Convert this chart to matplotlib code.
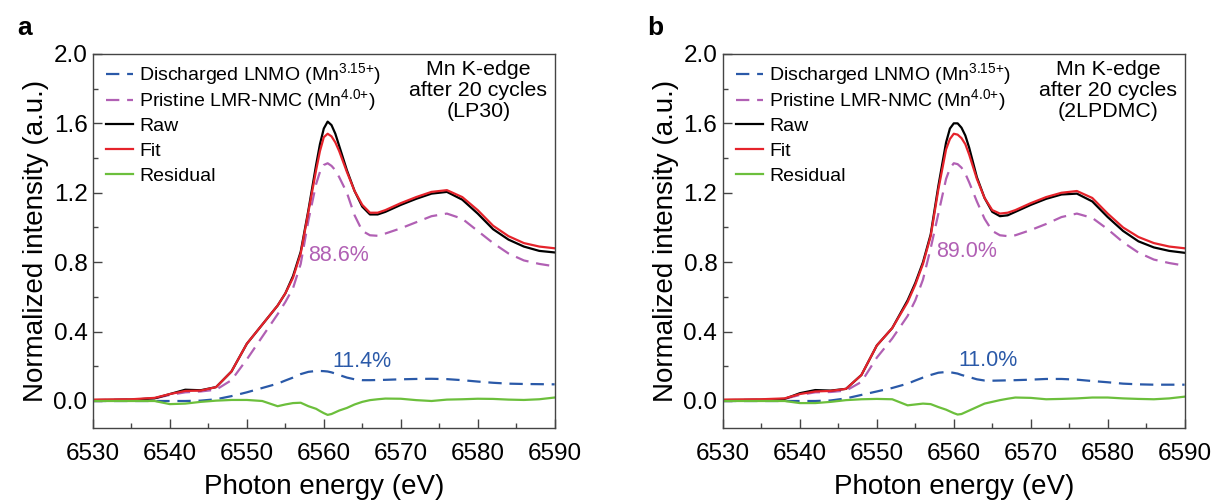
import matplotlib
matplotlib.use("Agg")
import matplotlib.pyplot as plt
from matplotlib.ticker import MultipleLocator, FormatStrFormatter

plt.rcParams['font.family'] = ['Liberation Sans', 'DejaVu Sans']
plt.rcParams['mathtext.default'] = 'regular'

# photon energy grid (eV), shared by both panels
energy = [6530, 6535, 6538, 6540, 6542, 6544, 6546, 6548, 6550, 6552, 6554, 6555, 6556,
          6557, 6558, 6559, 6559.5, 6560, 6560.5, 6561, 6561.5, 6562, 6563, 6564, 6565, 6566, 6567, 6568,
          6570, 6572, 6574, 6576, 6578, 6580, 6582, 6584, 6586, 6588, 6590]

# panel a (LP30)
raw_a = [0.005, 0.008, 0.015, 0.04, 0.065, 0.062, 0.08, 0.17, 0.33, 0.44, 0.55, 0.62, 0.72,
         0.86, 1.10, 1.36, 1.48, 1.57, 1.61, 1.59, 1.54, 1.47, 1.33, 1.21, 1.12, 1.075, 1.075, 1.09,
         1.13, 1.165, 1.195, 1.205, 1.16, 1.08, 0.99, 0.93, 0.89, 0.865, 0.856]
fit_a = [0.008, 0.01, 0.018, 0.04, 0.058, 0.06, 0.08, 0.17, 0.33, 0.44, 0.55, 0.62, 0.71,
         0.85, 1.09, 1.33, 1.44, 1.52, 1.54, 1.525, 1.49, 1.44, 1.32, 1.21, 1.13, 1.085, 1.085, 1.10,
         1.14, 1.175, 1.205, 1.215, 1.175, 1.10, 1.01, 0.95, 0.91, 0.89, 0.88]
pristine_a = [0.005, 0.008, 0.015, 0.035, 0.05, 0.055, 0.065, 0.12, 0.24, 0.37, 0.50, 0.57, 0.65,
              0.79, 1.04, 1.25, 1.32, 1.36, 1.37, 1.355, 1.33, 1.29, 1.20, 1.07, 0.98, 0.955, 0.952, 0.965,
              0.995, 1.03, 1.065, 1.08, 1.05, 0.98, 0.91, 0.85, 0.81, 0.79, 0.776]
discharged_a = [0.0, 0.0, 0.0, 0.0, 0.0, 0.002, 0.01, 0.028, 0.05, 0.075, 0.10, 0.118, 0.135,
                0.155, 0.168, 0.173, 0.173, 0.172, 0.17, 0.165, 0.158, 0.15, 0.135, 0.125, 0.12, 0.12, 0.121, 0.122,
                0.125, 0.127, 0.128, 0.126, 0.12, 0.112, 0.105, 0.10, 0.098, 0.097, 0.096]
residual_a = [0.0, 0.0, 0.0, -0.018, -0.015, -0.005, 0.002, 0.006, 0.006, 0.0, -0.03, -0.02, -0.012,
              -0.01, -0.03, -0.045, -0.058, -0.07, -0.08, -0.075, -0.065, -0.055, -0.04, -0.02, -0.005, 0.005, 0.01, 0.014,
              0.013, 0.005, 0.0, 0.008, 0.01, 0.013, 0.012, 0.008, 0.006, 0.01, 0.02]

# panel b (2LPDMC)
raw_b = [0.005, 0.007, 0.012, 0.045, 0.063, 0.06, 0.07, 0.15, 0.32, 0.42, 0.58, 0.68, 0.80,
         0.96, 1.24, 1.49, 1.57, 1.60, 1.60, 1.575, 1.53, 1.46, 1.29, 1.17, 1.09, 1.065, 1.07, 1.09,
         1.13, 1.165, 1.19, 1.195, 1.15, 1.06, 0.98, 0.92, 0.885, 0.865, 0.854]
fit_b = [0.008, 0.01, 0.015, 0.04, 0.055, 0.058, 0.07, 0.15, 0.32, 0.42, 0.57, 0.67, 0.79,
         0.95, 1.22, 1.45, 1.51, 1.54, 1.535, 1.515, 1.48, 1.42, 1.28, 1.17, 1.10, 1.08, 1.085, 1.10,
         1.14, 1.175, 1.20, 1.21, 1.17, 1.08, 1.00, 0.945, 0.91, 0.89, 0.88]
pristine_b = [0.005, 0.007, 0.012, 0.035, 0.05, 0.052, 0.06, 0.11, 0.25, 0.36, 0.49, 0.58, 0.70,
              0.88, 1.08, 1.28, 1.34, 1.37, 1.365, 1.345, 1.31, 1.26, 1.15, 1.05, 0.98, 0.955, 0.95, 0.955,
              0.985, 1.02, 1.06, 1.08, 1.055, 0.99, 0.915, 0.855, 0.815, 0.795, 0.78]
discharged_b = [0.0, 0.0, 0.0, 0.0, 0.0, 0.003, 0.015, 0.035, 0.055, 0.075, 0.10, 0.118, 0.135,
                0.15, 0.163, 0.167, 0.166, 0.162, 0.158, 0.15, 0.144, 0.138, 0.125, 0.118, 0.117, 0.118, 0.119, 0.12,
                0.123, 0.127, 0.127, 0.123, 0.115, 0.108, 0.10, 0.096, 0.094, 0.094, 0.094]
residual_b = [0.0, 0.0, 0.0, -0.012, -0.012, -0.005, 0.005, 0.01, 0.012, 0.01, -0.025, -0.02, -0.015,
              -0.018, -0.035, -0.05, -0.06, -0.07, -0.078, -0.075, -0.065, -0.055, -0.035, -0.015, -0.005, 0.005, 0.013, 0.02,
              0.018, 0.01, 0.012, 0.015, 0.02, 0.02, 0.015, 0.012, 0.01, 0.015, 0.025]

panels = [
    ("a", "LP30", raw_a, fit_a, pristine_a, discharged_a, residual_a,
     ("88.6%", 6561.9, 0.84), ("11.4%", 6564.9, 0.226)),
    ("b", "2LPDMC", raw_b, fit_b, pristine_b, discharged_b, residual_b,
     ("89.0%", 6561.7, 0.864), ("11.0%", 6564.5, 0.236)),
]

c_blue = '#2a59a8'
c_mag = '#b160b4'
c_red = '#e5232b'
c_green = '#6cbf3c'

fig = plt.figure(figsize=(12.15, 5.04), dpi=100)
lefts = [0.0765, 0.595]

for left, (letter, electrolyte, raw, fit, pris, dis, res, lab_p, lab_d) in zip(lefts, panels):
    ax = fig.add_axes([left, 0.151, 0.380, 0.742])
    l_dis, = ax.plot(energy, dis, color=c_blue, lw=1.6, dashes=(6, 3.5),
                     label='Discharged LNMO (Mn$^{3.15{+}}$)')
    l_pris, = ax.plot(energy, pris, color=c_mag, lw=1.6, dashes=(6, 3.5),
                      label='Pristine LMR-NMC (Mn$^{4.0{+}}$)')
    l_raw, = ax.plot(energy, raw, color='black', lw=1.6, label='Raw')
    l_fit, = ax.plot(energy, fit, color=c_red, lw=1.6, label='Fit')
    l_res, = ax.plot(energy, res, color=c_green, lw=1.6, label='Residual')

    ax.text(lab_p[1], lab_p[2], lab_p[0], color=c_mag, fontsize=15.5, ha='center', va='center')
    ax.text(lab_d[1], lab_d[2], lab_d[0], color=c_blue, fontsize=15.5, ha='center', va='center')
    ax.text(0.835, 0.985, f"Mn K-edge\nafter 20 cycles\n({electrolyte})", transform=ax.transAxes,
            fontsize=15.4, ha='center', va='top', linespacing=1.15)

    ax.set_xlim(6530, 6590)
    ax.set_ylim(-0.155, 2.0)
    ax.xaxis.set_major_locator(MultipleLocator(10))
    ax.xaxis.set_minor_locator(MultipleLocator(5))
    ax.yaxis.set_major_locator(MultipleLocator(0.4))
    ax.yaxis.set_minor_locator(MultipleLocator(0.2))
    ax.yaxis.set_major_formatter(FormatStrFormatter('%.1f'))
    ax.tick_params(which='both', direction='in', labelsize=17.5, color='#444444')
    ax.tick_params(which='major', length=6.5, width=1)
    ax.tick_params(which='minor', length=3.5, width=1)
    ax.tick_params(axis='x', which='major', pad=11)
    ax.tick_params(axis='y', which='major', pad=4)
    for s in ax.spines.values():
        s.set_color('#444444')
        s.set_linewidth(1)

    ax.set_xlabel('Photon energy (eV)', fontsize=20, labelpad=6)
    ax.set_ylabel('Normalized intensity (a.u.)', fontsize=20, labelpad=3)

    # two legends so the rows keep an even pitch despite the superscripts
    kw = dict(frameon=False, fontsize=14, handlelength=1.4, handletextpad=0.3,
              borderaxespad=0, borderpad=0.2, loc='upper left')
    leg1 = ax.legend(handles=[l_dis, l_pris], bbox_to_anchor=(0.02, 0.99),
                     labelspacing=0.0, **kw)
    ax.add_artist(leg1)
    ax.legend(handles=[l_raw, l_fit, l_res], bbox_to_anchor=(0.02, 0.842),
              labelspacing=0.38, **kw)

    fig.text(left - 0.056, 0.944, letter, fontsize=19, fontweight='bold', ha='center', va='center')

fig.savefig('out.png', dpi=100)
